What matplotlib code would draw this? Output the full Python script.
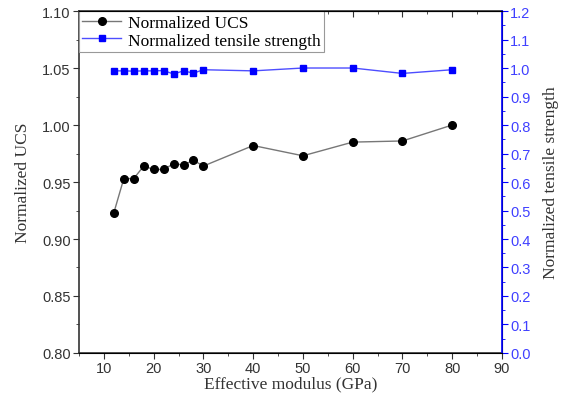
import matplotlib.pyplot as plt
from matplotlib.ticker import MultipleLocator

modulus = [12, 14, 16, 18, 20, 22, 24, 26, 28, 30, 40, 50, 60, 70, 80]
ucs = [0.923, 0.953, 0.953, 0.964, 0.961, 0.961, 0.966, 0.965, 0.969, 0.964,
       0.982, 0.973, 0.985, 0.986, 1.000]
tensile = [0.990, 0.990, 0.989, 0.990, 0.990, 0.991, 0.979, 0.990, 0.982, 0.994,
           0.990, 1.000, 1.000, 0.981, 0.994]

blue = "#0000ff"
serif = "Liberation Serif"
sans = "Liberation Sans"

fig = plt.figure(figsize=(5.62, 4.06), dpi=100)
ax = fig.add_axes([0.1406, 0.1281, 0.7526, 0.8423])
ax2 = ax.twinx()

l1, = ax.plot(modulus, ucs, color="#777777", lw=1, marker="o", ms=5.5,
              mfc="black", mec="black", label="Normalized UCS")
l2, = ax2.plot(modulus, tensile, color="#4d4dff", lw=1, marker="s", ms=4.5,
               mfc=blue, mec=blue, label="Normalized tensile strength")

ax.set_xlim(5, 90)
ax.set_ylim(0.80, 1.10)
ax2.set_ylim(0.0, 1.2)

ax.xaxis.set_major_locator(MultipleLocator(10))
ax.xaxis.set_minor_locator(MultipleLocator(5))
ax.yaxis.set_major_locator(MultipleLocator(0.05))
ax.yaxis.set_minor_locator(MultipleLocator(0.025))
ax2.yaxis.set_major_locator(MultipleLocator(0.1))
ax2.yaxis.set_minor_locator(MultipleLocator(0.05))

ax.set_xticks(range(10, 91, 10))
ax.yaxis.set_major_formatter(plt.FuncFormatter(lambda v, p: f"{v:.2f}"))
ax2.yaxis.set_major_formatter(plt.FuncFormatter(lambda v, p: f"{v:.1f}"))

ax.tick_params(axis="both", which="both", direction="out", labelsize=10.5,
               colors="#333333", top=False, pad=2)
ax.tick_params(which="major", length=4)
ax.tick_params(which="minor", length=2)
ax2.tick_params(axis="y", which="both", direction="out", colors=blue,
                labelsize=10.5, pad=2)
ax2.tick_params(which="major", length=4)
ax2.tick_params(which="minor", length=2)
for t in ax.get_xticklabels() + ax.get_yticklabels() + ax2.get_yticklabels():
    t.set_fontfamily(sans)
for t in ax2.get_yticklabels():
    t.set_color("#4040ff")

# top ticks pointing inward
sec = ax.secondary_xaxis("top")
sec.set_xticks(range(10, 91, 10))
sec.xaxis.set_minor_locator(MultipleLocator(5))
sec.tick_params(which="both", direction="in", labeltop=False, color="#333333")
sec.tick_params(which="major", length=4)
sec.tick_params(which="minor", length=2)
sec.spines["top"].set_color("#333333")

for s in ["left", "bottom", "top"]:
    ax.spines[s].set_color("#333333")
    ax.spines[s].set_linewidth(1.2)
ax2.spines["right"].set_color(blue)
ax2.spines["right"].set_linewidth(1.2)
ax2.spines["left"].set_visible(False)

ax.set_xlabel("Effective modulus (GPa)", fontfamily=serif, fontsize=12.5,
              color="#333333", labelpad=0)
ax.set_ylabel("Normalized UCS", fontfamily=serif, fontsize=12.5,
              color="#333333", labelpad=8)
ax2.set_ylabel("Normalized tensile strength", fontfamily=serif, fontsize=12.5,
               color="#333333", labelpad=9)

leg = ax.legend(handles=[l1, l2], loc="upper left", bbox_to_anchor=(0, 1),
                prop={"family": serif, "size": 12.5}, fancybox=False,
                framealpha=1, edgecolor="#999999", borderpad=0.2,
                handlelength=2.2, handletextpad=0.4, labelspacing=0.1,
                borderaxespad=0)
leg.get_frame().set_linewidth(0.8)

fig.savefig("out.png", dpi=100)
